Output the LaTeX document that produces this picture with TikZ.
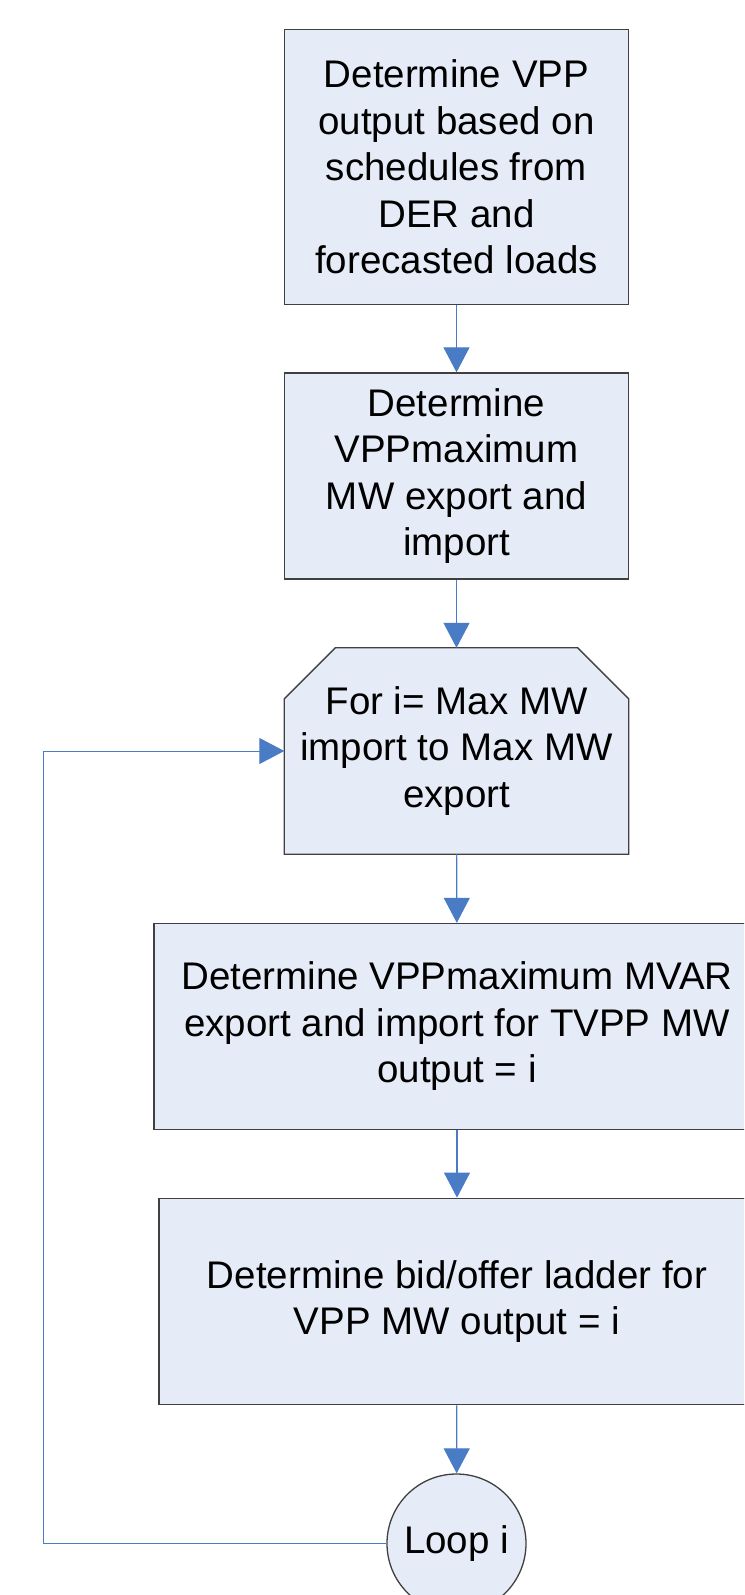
\documentclass[tikz,border=0pt]{standalone}
\usepackage{fontspec}
\setmainfont{Liberation Sans}
\usetikzlibrary{arrows.meta,backgrounds}

\definecolor{boxfill}{HTML}{E6ECF7}
\definecolor{boxline}{HTML}{404040}
\definecolor{flowblue}{HTML}{4A7BC5}

\tikzset{
  procbox/.style={draw=boxline, fill=boxfill, line width=1.3pt, inner sep=0pt,
    align=center, font=\fontsize{38.5}{46.5}\selectfont},
  plainbox/.style={inner sep=0pt, align=center, font=\fontsize{38.5}{46.5}\selectfont},
  loopnode/.style={circle, draw=boxline, fill=boxfill, line width=1.3pt, inner sep=0pt,
    minimum size=139pt, font=\fontsize{38.5}{46.5}\selectfont},
  conn/.style={draw=flowblue, line width=1.1pt,
    -{Triangle[width=26pt,length=25pt,fill=flowblue]}},
}

\begin{document}
\begin{tikzpicture}[x=1pt,y=-1pt]
\useasboundingbox (0,0) rectangle (744,1595);
\clip (0,0) rectangle (744,1595);

% process steps
\node[procbox, minimum width=344pt, minimum height=275pt] (sched) at (456.5,167)
  {Determine VPP\\output based on\\schedules from\\DER and\\forecasted loads};
\node[procbox, minimum width=344pt, minimum height=206pt] (maxmw) at (456.5,476)
  {Determine\\VPPmaximum\\MW export and\\import};

% loop start: rectangle with the two upper corners cut off
\node[plainbox, minimum width=344pt, minimum height=206pt] (forloop) at (456.5,751)
  {For i= Max MW\\import to Max MW\\export};
\begin{scope}[on background layer]
  \filldraw[draw=boxline, fill=boxfill, line width=1.3pt, line join=miter]
    ([xshift=51pt]forloop.north west) -- ([xshift=-51pt]forloop.north east)
    -- ([yshift=-51pt]forloop.north east) -- (forloop.south east)
    -- (forloop.south west) -- ([yshift=-51pt]forloop.north west) -- cycle;
\end{scope}

\node[procbox, minimum width=606pt, minimum height=206pt] (mvar) at (457,1026.5)
  {Determine VPPmaximum MVAR\\export and import for TVPP MW\\output = i};
\node[procbox, minimum width=596pt, minimum height=206.5pt] (ladder) at (457,1301.5)
  {Determine bid/offer ladder for\\VPP MW output = i};

% loop end
\node[loopnode] (loopend) at (456.5,1543.5) {Loop i};

% flow
\draw[conn] (sched) -- (maxmw);
\draw[conn] (maxmw) -- (forloop);
\draw[conn] (forloop) -- (mvar);
\draw[conn] (mvar) -- (ladder);
\draw[conn] (ladder) -- (loopend);

% return path of the loop
\coordinate (back) at (43.5,1543.5);
\draw[conn, line width=1pt] (loopend) -- (back) |- (forloop);
\end{tikzpicture}
\end{document}
